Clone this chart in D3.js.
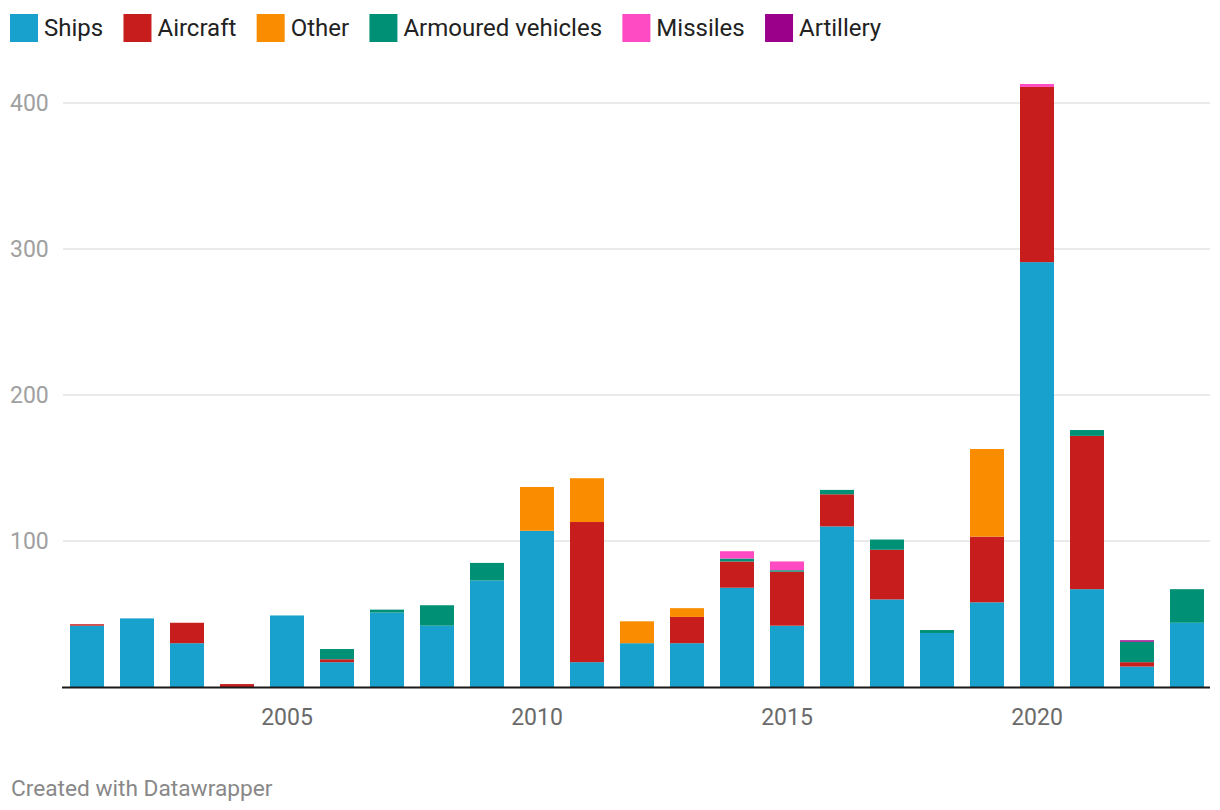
<!DOCTYPE html>
<html><head><meta charset="utf-8">
<script src="https://cdn.jsdelivr.net/npm/d3@7"></script>
<style>
body{margin:0;background:#fff;font-family:Roboto,"Noto Sans",sans-serif;}
svg{display:block}
</style></head>
<body><svg id="c" width="1220" height="810"></svg>
<script>
const years = [2001,2002,2003,2004,2005,2006,2007,2008,2009,2010,2011,2012,2013,2014,2015,2016,2017,2018,2019,2020,2021,2022,2023];
const seriesNames = ["Ships","Aircraft","Other","Armoured vehicles","Missiles","Artillery"];
const seriesColors = ["#18a1cd","#c71e1d","#fa8c00","#009076","#ff4bc3","#9a0089"];
const ships    = [42,47,30,0,49,17,51,42,73,107,17,30,30,68,42,110,60,37,58,291,67,14,44];
const aircraft = [1,0,14,2,0,2,0,0,0,0,96,0,18,18,37,22,34,0,45,120,105,3,0];
const other    = [0,0,0,0,0,0,0,0,0,30,30,15,6,0,0,0,0,0,60,0,0,0,0];
const armoured = [0,0,0,0,0,7,2,14,12,0,0,0,0,2,1,3,7,2,0,0,4,14,23];
const missiles = [0,0,0,0,0,0,0,0,0,0,0,0,0,5,6,0,0,0,0,2,0,0,0];
const artillery= [0,0,0,0,0,0,0,0,0,0,0,0,0,0,0,0,0,0,0,0,0,1,0];
const yTicks = [100,200,300,400];
const xTickYears = [2005,2010,2015,2020];

const seriesValues = [ships,aircraft,other,armoured,missiles,artillery];
const rows = years.map((y,i)=>{const r={year:y}; seriesNames.forEach((n,k)=>r[n]=seriesValues[k][i]); return r;});
const stack = d3.stack().keys(seriesNames)(rows);

const svg = d3.select("#c");
const x = d3.scaleBand().domain(years).range([62,1212]).paddingInner(0.32).paddingOuter(0.16);
const y = d3.scaleLinear().domain([0,400]).range([687,103]);

// gridlines
svg.append("g").selectAll("line").data(yTicks).join("line")
  .attr("x1",63).attr("x2",1210).attr("y1",d=>y(d)).attr("y2",d=>y(d))
  .attr("stroke","#e3e3e3").attr("stroke-width",1.5);
svg.append("g").selectAll("text").data(yTicks).join("text")
  .attr("x",10).attr("y",d=>y(d)).attr("dy","0.36em")
  .attr("fill","#a0a0a0").attr("font-size",23).text(d=>d);

// bars
svg.append("g").selectAll("g").data(stack).join("g")
  .attr("fill",(d,i)=>seriesColors[i])
  .selectAll("rect").data(d=>d).join("rect")
  .attr("x",d=>x(d.data.year)).attr("width",x.bandwidth())
  .attr("y",d=>y(d[1])).attr("height",d=>Math.max(0,y(d[0])-y(d[1])));

// baseline
svg.append("line").attr("x1",62).attr("x2",1210).attr("y1",687.5).attr("y2",687.5)
  .attr("stroke","#1a1a1a").attr("stroke-width",2);

// x labels
svg.append("g").selectAll("text").data(xTickYears).join("text")
  .attr("x",d=>x(d)+x.bandwidth()/2).attr("y",717).attr("dy","0.36em")
  .attr("text-anchor","middle").attr("fill","#6a6a6a").attr("font-size",23).text(d=>d);

// legend
const legend = svg.append("g");
let lx = 10;
seriesNames.forEach((n,i)=>{
  legend.append("rect").attr("x",lx).attr("y",14).attr("width",28).attr("height",28).attr("fill",seriesColors[i]);
  const t = legend.append("text").attr("x",lx+34).attr("y",27).attr("dy","0.36em")
    .attr("font-size",24).attr("fill","#222").text(n);
  lx += 34 + t.node().getComputedTextLength() + 20.3;
});

svg.append("text").attr("x",11).attr("y",788).attr("dy","0.36em").attr("font-size",22.7)
  .attr("fill","#888").text("Created with Datawrapper");
</script></body></html>
